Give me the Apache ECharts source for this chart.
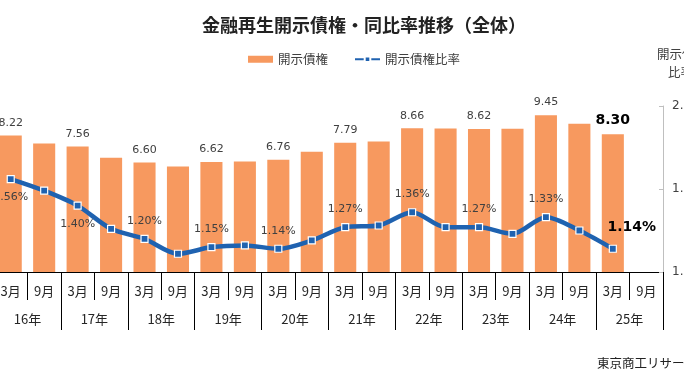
<!DOCTYPE html>
<html><head><meta charset="utf-8">
<script src="https://cdn.jsdelivr.net/npm/echarts@6/dist/echarts.min.js"></script>
<style>html,body{margin:0;padding:0;background:#fff;overflow:hidden;width:684px;height:385px}#c{position:absolute;left:-6px;top:0;width:690px;height:385px}</style>
</head><body><div id="c"></div>
<script>
const months = ['3月','9月','3月','9月','3月','9月','3月','9月','3月','9月','3月','9月','3月','9月','3月','9月','3月','9月','3月','9月'];
const years = ['16年','17年','18年','19年','20年','21年','22年','23年','24年','25年'];
const claims = [8.22,7.74,7.56,6.89,6.60,6.35,6.62,6.65,6.76,7.25,7.79,7.86,8.66,8.65,8.62,8.63,9.45,8.93,8.30,null];
const ratio = [1.56,1.49,1.40,1.26,1.20,1.11,1.15,1.16,1.14,1.19,1.27,1.28,1.36,1.27,1.27,1.23,1.33,1.25,1.14,null];
const rightTicks = [1.0,1.5,2.0];

const ORANGE = '#F7995F', BLUE = '#1F62B0';
const CJK = '"Noto Sans CJK JP","Noto Sans",sans-serif';
const NUM = '"DejaVu Sans",Verdana,sans-serif';
const lastIdx = 18;
const DX = 6; // container shifted left by 6px

const barData = claims.map((v,i)=>{
  const show = (i%2===0) && v!=null;
  const bold = i===lastIdx;
  return {value:v, label:{show:show, position:'top', distance:7,
    fontFamily:NUM, fontSize: bold?14:11, fontWeight: bold?'bold':'normal',
    color: bold?'#000':'#404040', formatter: p=>p.value.toFixed(2)}};
});
const lineData = ratio.map((v,i)=>{
  const show = (i%2===0) && v!=null;
  const bold = i===lastIdx;
  const below = (i===0||i===2);
  return {value:v, label:{show:show, position: below?'bottom':'top', distance: below?9:8,
    offset: bold?[19,-2]:[0,0],
    fontFamily:NUM, fontSize: bold?14:11, fontWeight: bold?'bold':'normal',
    color: bold?'#000':'#404040', formatter: p=>p.value.toFixed(2)+'%'}};
});

const chart = echarts.init(document.getElementById('c'));
chart.setOption({
  animation:false,
  backgroundColor:'#fff',
  title:{text:'金融再生開示債権・同比率推移（全体）', left:197+DX, top:11,
    textStyle:{fontFamily:CJK, fontSize:18, fontWeight:'bold', color:'#222'}},
  legend:{left:243+DX, top:48, itemWidth:25, itemHeight:7, itemGap:26,
    textStyle:{fontFamily:CJK, fontSize:12.5, color:'#404040'},
    data:[{name:'開示債権', icon:'rect'},{name:'開示債権比率'}]},
  grid:{left:0, right:21, top:106, bottom:113, containLabel:false, outerBoundsMode:'none'},
  xAxis:[
    {type:'category', data:months, position:'bottom', boundaryGap:true,
     axisLine:{lineStyle:{color:'#000', width:1}},
     axisTick:{show:true, interval:0, length:28, lineStyle:{color:'#000'}},
     axisLabel:{interval:0, margin:13, fontFamily:CJK, fontSize:13, color:'#262626'}},
    {type:'category', data:years, position:'bottom', boundaryGap:true,
     axisLine:{lineStyle:{color:'#000', width:1}},
     axisTick:{show:true, interval:0, length:58, lineStyle:{color:'#000'}},
     axisLabel:{interval:0, margin:41, fontFamily:CJK, fontSize:13, color:'#262626'}}
  ],
  yAxis:[
    {type:'value', min:0, max:10, interval:5, show:false},
    {type:'value', min:rightTicks[0], max:rightTicks[rightTicks.length-1], interval:0.5, position:'right',
     axisLine:{show:true, lineStyle:{color:'#bfbfbf'}},
     axisTick:{show:true, inside:true, length:4, lineStyle:{color:'#bfbfbf'}},
     splitLine:{show:false},
     axisLabel:{margin:9, fontFamily:NUM, fontSize:12, color:'#404040', formatter:v=>v.toFixed(1)+'%'}}
  ],
  series:[
    {name:'開示債権', type:'bar', xAxisIndex:0, yAxisIndex:0, data:barData,
     barCategoryGap:'34%', itemStyle:{color:ORANGE}},
    {name:'開示債権比率', type:'line', xAxisIndex:0, yAxisIndex:1, data:lineData,
     smooth:0.3, symbol:'rect', symbolSize:7, showAllSymbol:true,
     lineStyle:{color:BLUE, width:4.5},
     itemStyle:{color:BLUE, borderColor:'#fff', borderWidth:1.2}}
  ],
  graphic:[
    {type:'text', left:657+DX, top:48, style:{text:'開示債権', fontFamily:CJK, fontSize:12.5, fill:'#404040'}},
    {type:'text', left:668+DX, top:66, style:{text:'比率', fontFamily:CJK, fontSize:12.5, fill:'#404040'}},
    {type:'text', left:597+DX, top:357, style:{text:'東京商工リサーチ', fontFamily:CJK, fontSize:12.5, fill:'#222'}}
  ]
});
</script></body></html>
